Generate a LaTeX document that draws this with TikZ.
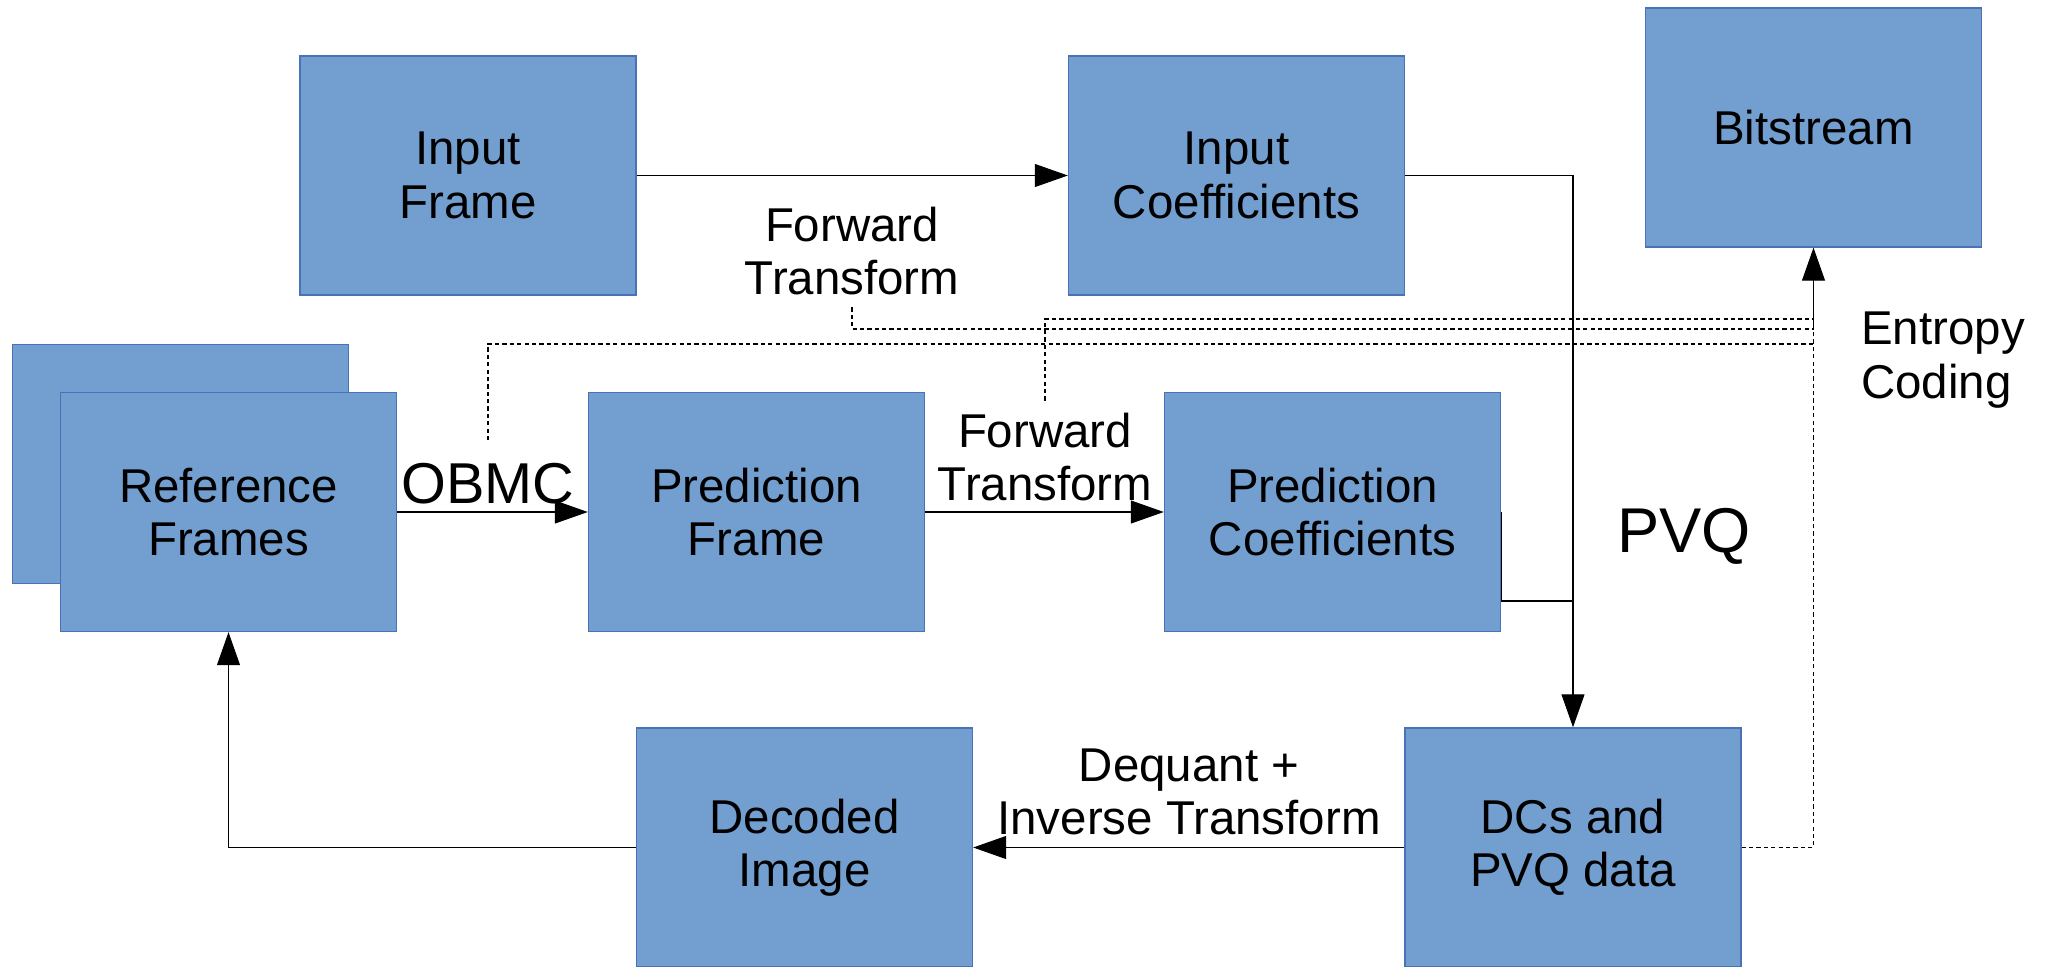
\documentclass[tikz,border=0pt]{standalone}
\usepackage{fontspec}
\setmainfont{Liberation Sans}
\usetikzlibrary{arrows.meta}
\definecolor{boxfill}{HTML}{729FCF}
\definecolor{boxline}{HTML}{4A72B8}

\begin{document}
\begin{tikzpicture}[>={Triangle[length=3.3mm,width=2.3mm]},line width=0.3pt,
  blk/.style={draw=boxline,line width=0.4pt,fill=boxfill,minimum width=3.36cm,minimum height=2.39cm,align=center,inner sep=0pt,font=\fontsize{13.5}{15.2}\selectfont},
  lbl/.style={align=center,font=\fontsize{13.5}{15.2}\selectfont},
  dsh/.style={dash pattern=on 1.2pt off 0.9pt,line width=0.35pt}]
\useasboundingbox (0,0) rectangle (20.46,-9.67);
\node[blk] (inframe) at (4.68,-1.755) {Input\\Frame};
\node[blk] (incoef) at (12.365,-1.755) {Input\\Coefficients};
\node[blk] (bits) at (18.135,-1.275) {Bitstream};
\node[blk] (refback) at (1.805,-4.64) {};
\node[blk] (reframe) at (2.285,-5.12) {Reference\\Frames};
\node[blk] (predframe) at (7.565,-5.12) {Prediction\\Frame};
\node[blk] (predcoef) at (13.325,-5.12) {Prediction\\Coefficients};
\node[blk] (decoded) at (8.045,-8.475) {Decoded\\Image};
\node[blk] (dcs) at (15.73,-8.475) {DCs and\\PVQ data};

\node[lbl] (fwd1) at (8.52,-2.51) {Forward\\Transform};
\node[lbl] (fwd2) at (10.45,-4.57) {Forward\\Transform};
\node[lbl,inner sep=0pt,anchor=base,font=\fontsize{16.4}{18}\selectfont] (obmc) at (4.88,-5.03) {OBMC};
\node[lbl,font=\fontsize{18}{20}\selectfont] (pvq) at (16.84,-5.36) {PVQ};
\node[lbl] (dequant) at (11.89,-7.92) {Dequant +\\Inverse Transform};
\node[lbl,align=left,anchor=west] (entropy) at (18.49,-3.60) {Entropy\\Coding};

\coordinate (pj) at (15.73,-6.01);
\coordinate (e1) at (18.135,-3.19);
\coordinate (e2) at (18.135,-3.29);
\coordinate (e3) at (18.135,-3.44);

\draw[->] (inframe) -- (incoef);
\draw[->] (incoef.east) -| (dcs.north);
\draw (predcoef.east) |- (pj);
\draw[->] (reframe) -- (predframe);
\draw[->] (predframe) -- (predcoef);
\draw[->] (dcs) -- (decoded);
\draw[->] (decoded.west) -| (reframe.south);

\draw[dsh] (dcs.east) -| (e2);
\draw[->] (e2) -- (bits.south);
\draw[dsh] (fwd2.north) |- (e1);
\draw[dsh] (fwd1.south) |- (e2);
\draw[dsh] ([yshift=2.2mm]obmc.north) |- (e3);
\end{tikzpicture}
\end{document}
